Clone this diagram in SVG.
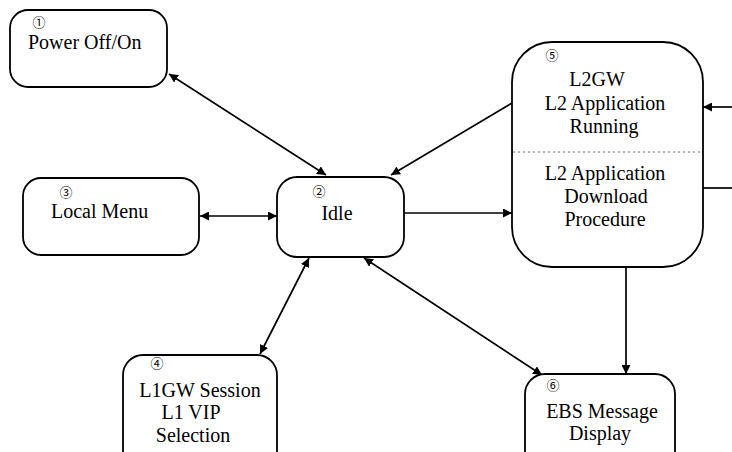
<svg xmlns="http://www.w3.org/2000/svg" width="732" height="452" viewBox="0 0 732 452">
<defs>
<marker id="ah" viewBox="0 0 10 10" refX="10" refY="5" markerWidth="9" markerHeight="9" markerUnits="userSpaceOnUse" orient="auto-start-reverse">
<path d="M0,0 L10,5 L0,10 z" fill="#000"/>
</marker>
<style>
.box{fill:#fff;stroke:#000;stroke-width:1.8}
.t{font-family:"Liberation Serif","Times New Roman",serif;font-size:20px;fill:#000}
.c{text-anchor:middle}
.n{font-family:"Noto Sans CJK JP","DejaVu Sans",sans-serif;font-size:13px;fill:#000;text-anchor:middle}
.ln{stroke:#000;stroke-width:1.7;fill:none}
.dot{stroke:#666;stroke-width:1;stroke-dasharray:2 3;fill:none}
</style>
</defs>
<rect width="732" height="452" fill="#fff"/>
<g id="connectors">
<line class="ln" x1="169" y1="74" x2="326" y2="175" marker-start="url(#ah)" marker-end="url(#ah)"/>
<line class="ln" x1="200" y1="216" x2="277" y2="216" marker-start="url(#ah)" marker-end="url(#ah)"/>
<line class="ln" x1="512" y1="103" x2="391" y2="175" marker-end="url(#ah)"/>
<line class="ln" x1="404" y1="213" x2="512" y2="213" marker-end="url(#ah)"/>
<line class="ln" x1="309" y1="258" x2="260" y2="354" marker-start="url(#ah)" marker-end="url(#ah)"/>
<line class="ln" x1="364" y1="258" x2="542" y2="375" marker-start="url(#ah)" marker-end="url(#ah)"/>
<line class="ln" x1="626" y1="267" x2="626" y2="374" marker-end="url(#ah)"/>
<line class="ln" x1="732" y1="107" x2="703" y2="107" marker-end="url(#ah)"/>
<line class="ln" x1="703" y1="188" x2="732" y2="188"/>
</g>
<g id="node1">
<rect class="box" x="10" y="10" width="157" height="77" rx="18"/>
<text class="n" x="39" y="27">①</text>
<text class="t" x="28" y="49">Power Off/On</text>
</g>
<g id="node3">
<rect class="box" x="23" y="178" width="176" height="77" rx="18"/>
<text class="n" x="66" y="197">③</text>
<text class="t" x="51" y="218">Local Menu</text>
</g>
<g id="node2">
<rect class="box" x="277" y="177" width="127" height="80" rx="20"/>
<text class="n" x="319" y="196">②</text>
<text class="t c" x="337" y="220">Idle</text>
</g>
<g id="node5">
<rect class="box" x="512" y="42" width="191" height="225" rx="40"/>
<line class="dot" x1="513" y1="152" x2="702" y2="152"/>
<text class="n" x="552" y="60">⑤</text>
<text class="t c" x="597" y="86">L2GW</text>
<text class="t c" x="605" y="110">L2 Application</text>
<text class="t c" x="604" y="133">Running</text>
<text class="t c" x="605" y="180">L2 Application</text>
<text class="t c" x="606" y="203">Download</text>
<text class="t c" x="605" y="226">Procedure</text>
</g>
<g id="node4">
<rect class="box" x="123" y="355" width="154" height="120" rx="20"/>
<text class="n" x="157" y="368">④</text>
<text class="t c" x="200" y="397">L1GW Session</text>
<text class="t c" x="191" y="419">L1 VIP</text>
<text class="t c" x="193" y="442">Selection</text>
</g>
<g id="node6">
<rect class="box" x="525" y="374" width="150" height="110" rx="20"/>
<text class="n" x="553" y="390">⑥</text>
<text class="t c" x="602" y="418">EBS Message</text>
<text class="t c" x="600" y="440">Display</text>
</g>
</svg>
